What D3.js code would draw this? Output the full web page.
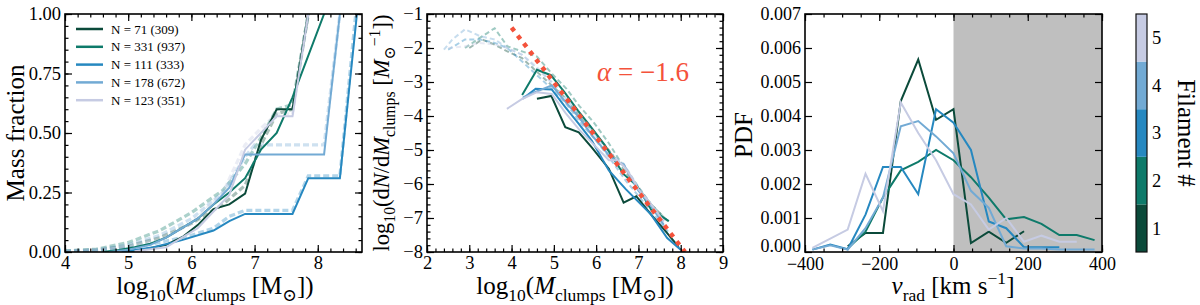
<!DOCTYPE html>
<html>
<head>
<meta charset="utf-8">
<script src="https://cdn.jsdelivr.net/npm/d3@7"></script>
<style>
body { margin: 0; background: #fff; }
svg { font-family: "Liberation Serif", "DejaVu Serif", serif; }
</style>
</head>
<body>
<svg id="chart" width="1200" height="305"></svg>
<script>
// filament colours (1 -> 5) and legend labels
var filaments = [1, 2, 3, 4, 5];
var colors = ["#0b4a3a", "#0e7a6a", "#2688c0", "#72aad4", "#c6cbe3"];
var legendLabels = ["N = 71 (309)", "N = 331 (937)", "N = 111 (333)", "N = 178 (672)", "N = 123 (351)"];

// left panel: cumulative mass fraction, [log10 M, fraction]
var fracSolid = [
  [[4.9,0.0],[5.2,0.008],[5.6,0.03],[5.87,0.065],[6.1,0.113],[6.35,0.18],[6.6,0.2],[6.85,0.245],[7.1,0.47],[7.35,0.6],[7.6,0.6],[7.85,1.0]],
  [[4.6,0.0],[4.85,0.008],[5.1,0.02],[5.35,0.035],[5.6,0.06],[5.85,0.1],[6.1,0.14],[6.35,0.2],[6.6,0.25],[6.85,0.31],[7.1,0.43],[7.35,0.5],[7.6,0.65],[8.1,1.0]],
  [[4.9,0.0],[5.4,0.02],[5.85,0.05],[6.35,0.09],[6.6,0.13],[6.85,0.16],[7.6,0.16],[7.85,0.31],[8.35,0.31],[8.62,1.0]],
  [[4.7,0.0],[5.0,0.01],[5.35,0.03],[5.6,0.06],[5.85,0.1],[6.1,0.14],[6.35,0.2],[6.6,0.27],[6.85,0.41],[8.1,0.41],[8.35,1.0]],
  [[5.1,0.003],[5.6,0.02],[5.85,0.06],[6.1,0.1],[6.35,0.17],[6.6,0.24],[6.85,0.43],[7.1,0.5],[7.35,0.57],[7.6,0.57],[7.85,1.0]]
];
var fracDashed = [
  [[4.0,0.003],[4.5,0.008],[5.0,0.025],[5.5,0.06],[6.0,0.12],[6.5,0.2],[6.85,0.28],[7.1,0.45],[7.35,0.58],[7.6,0.6],[7.85,1.0]],
  [[4.0,0.005],[4.5,0.012],[5.0,0.04],[5.5,0.09],[6.0,0.165],[6.5,0.26],[6.85,0.37],[7.1,0.48],[7.35,0.6],[7.6,0.62],[7.85,1.0]],
  [[4.0,0.002],[4.5,0.005],[5.0,0.015],[5.5,0.04],[6.0,0.07],[6.35,0.1],[6.6,0.15],[6.85,0.175],[7.6,0.175],[7.85,0.32],[8.35,0.32],[8.6,1.0]],
  [[4.0,0.004],[4.5,0.01],[5.0,0.03],[5.5,0.07],[6.0,0.14],[6.5,0.25],[6.85,0.4],[7.0,0.45],[8.1,0.45],[8.35,1.0]],
  [[4.0,0.003],[4.5,0.008],[5.0,0.02],[5.5,0.05],[6.0,0.12],[6.5,0.25],[6.85,0.45],[7.1,0.52],[7.35,0.58],[7.6,0.58],[7.85,1.0]]
];

// middle panel: mass function, [log10 M, log10 dN/dM]
var mfSolid = [
  [[4.6,-3.49],[4.94,-3.41],[5.27,-4.33],[5.59,-4.48],[5.9,-4.93],[6.3,-5.55],[6.65,-6.55],[6.95,-6.36],[7.3,-6.9],[7.65,-7.4],[7.95,-7.85]],
  [[4.25,-3.38],[4.6,-2.64],[4.93,-2.8],[5.25,-3.3],[5.57,-3.84],[5.88,-4.33],[6.2,-4.85],[6.42,-5.27],[6.65,-5.71],[6.97,-6.06],[7.3,-6.75],[7.72,-7.09]],
  [[4.27,-3.49],[4.57,-3.2],[4.95,-3.22],[5.27,-3.74],[5.59,-4.23],[5.9,-4.73],[6.3,-5.6],[6.7,-6.15],[7.3,-6.9],[7.68,-7.59],[8.0,-7.93]],
  [[4.27,-3.45],[4.55,-3.3],[4.95,-3.1],[5.25,-3.55],[5.6,-4.05],[5.92,-4.6],[6.3,-5.15],[6.5,-5.35],[6.65,-5.42],[6.82,-5.8],[7.0,-6.2],[7.3,-6.65],[7.6,-7.2]],
  [[3.89,-3.79],[4.25,-3.5],[4.6,-3.3],[4.95,-3.35],[5.27,-3.9],[5.6,-4.4],[5.95,-4.85],[6.3,-5.3],[6.5,-5.3],[6.65,-5.47],[6.82,-5.76],[7.0,-6.15],[7.3,-6.6],[7.6,-7.1]]
];
var mfDashed = [
  [[3.0,-2.0],[3.3,-1.75],[3.6,-1.9],[3.9,-2.1],[4.25,-2.3],[4.6,-2.7],[4.95,-3.1],[5.3,-3.5],[5.6,-4.0],[5.95,-4.5],[6.3,-5.0],[6.6,-5.5],[6.95,-6.05],[7.3,-6.6],[7.7,-7.1]],
  [[2.9,-2.0],[3.25,-1.7],[3.6,-1.42],[3.9,-1.95],[4.25,-2.1],[4.6,-2.25],[4.95,-2.75],[5.3,-3.2],[5.6,-3.7],[5.95,-4.2],[6.3,-4.8],[6.6,-5.4],[6.95,-6.0],[7.3,-6.6],[7.7,-7.1]],
  [[2.5,-2.05],[2.9,-1.75],[3.25,-1.75],[3.6,-1.85],[3.9,-2.0],[4.25,-2.4],[4.6,-2.8],[4.95,-3.2],[5.3,-3.65],[5.6,-4.15],[5.95,-4.65],[6.3,-5.2],[6.7,-5.9],[7.3,-6.8],[7.7,-7.4]],
  [[2.4,-2.05],[2.6,-1.75],[2.9,-1.45],[3.25,-1.65],[3.6,-1.75],[3.9,-2.0],[4.25,-2.2],[4.6,-2.6],[4.95,-3.0],[5.3,-3.5],[5.6,-4.0],[5.95,-4.5],[6.3,-5.05],[6.65,-5.4],[7.0,-6.1],[7.3,-6.6],[7.6,-7.1]],
  [[2.5,-2.0],[2.9,-1.95],[3.25,-1.85],[3.6,-1.9],[3.9,-2.0],[4.25,-2.2],[4.6,-2.55],[4.95,-3.05],[5.3,-3.6],[5.6,-4.1],[5.95,-4.6],[6.3,-5.15],[6.65,-5.45],[7.0,-6.1],[7.3,-6.6],[7.6,-7.1]]
];
var fitLine = [[4.0,-1.4],[8.1,-8.0]];
var fitLabel = "α = −1.6";

// right panel: PDF of radial velocity
var vrad = [-380,-332,-285,-237,-190,-142,-95,-47,0,47,95,142,190,237,285,332,380];
var pdf = [
  [null,null,0.00017,0.00056,0.00056,0.00444,0.00566,0.00389,0.0042,0.00026,0.0006,0.00027,0.00061,null,null,null,null],
  [null,null,0.0001,0.0006,0.0016,0.0024,0.00265,0.003,0.0027,0.0022,0.0016,0.00096,0.00103,0.00083,0.0005,0.0005,0.00035],
  [0.00007,0.00022,0.00008,0.0011,0.0025,0.0025,0.0017,0.0042,0.0038,0.003,0.0009,0.0007,0.00014,0.00014,0.00014,null,null],
  [0.00007,0.0002,0.00007,0.0007,0.0016,0.0037,0.00385,0.0034,0.0029,0.0018,0.0013,0.00017,0.0001,0.0001,0.00007,0.00007,0.00007],
  [0.00012,null,0.00066,0.0023,0.0012,0.0044,0.0035,0.0027,0.0017,0.0014,0.00066,0.001,0.0003,0.00048,0.0003,0.0003,null]
];
var shadeRange = [0, 400];

var svg = d3.select("#chart");
var top0 = 14, bot0 = 252;

// one panel box with inward ticks on all sides
function makePanel(o) {
  var x = d3.scaleLinear().domain(o.xDom).range([o.x0, o.x1]);
  var y = d3.scaleLinear().domain(o.yDom).range([bot0, top0]);
  var g = svg.append("g");
  var clipId = "clip" + o.id;
  svg.append("clipPath").attr("id", clipId).append("rect")
    .attr("x", o.x0).attr("y", top0).attr("width", o.x1 - o.x0).attr("height", bot0 - top0);
  var plot = g.append("g").attr("clip-path", "url(#" + clipId + ")");

  function ax(axisFn, scale, vals, size, fmt, tr) {
    var a = axisFn(scale).tickValues(vals).tickSize(size).tickPadding(4).tickFormat(fmt);
    var s = g.append("g").attr("transform", tr).call(a);
    s.select(".domain").remove();
    s.selectAll("line").attr("stroke", "#000").attr("stroke-width", 1.2);
    s.selectAll("text").attr("font-size", o.tickSize || 18.5).attr("fill", "#000")
      .attr("font-family", "Liberation Serif, DejaVu Serif, serif");
    return s;
  }
  var none = function() { return ""; };
  ax(d3.axisBottom, x, o.xMinor, -3.5, none, "translate(0," + bot0 + ")");
  ax(d3.axisTop, x, o.xMinor, -3.5, none, "translate(0," + top0 + ")");
  ax(d3.axisTop, x, o.xMajor, -7, none, "translate(0," + top0 + ")");
  ax(d3.axisBottom, x, o.xMajor, -7, o.xFmt, "translate(0," + bot0 + ")")
    .selectAll("text").attr("dy", o.xDy || "0.72em");
  if (o.yMinor) {
    ax(d3.axisLeft, y, o.yMinor, -3.5, none, "translate(" + o.x0 + ",0)");
    ax(d3.axisRight, y, o.yMinor, -3.5, none, "translate(" + o.x1 + ",0)");
  }
  ax(d3.axisRight, y, o.yMajor, -7, none, "translate(" + o.x1 + ",0)");
  ax(d3.axisLeft, y, o.yMajor, -7, o.yFmt, "translate(" + o.x0 + ",0)")
    .selectAll("text").attr("dy", "0.3em");

  g.append("rect").attr("x", o.x0).attr("y", top0)
    .attr("width", o.x1 - o.x0).attr("height", bot0 - top0)
    .attr("fill", "none").attr("stroke", "#000").attr("stroke-width", 1.6);
  return { x: x, y: y, plot: plot, g: g };
}

// text with italic / sub / sup pieces
function richText(sel, parts, size) {
  var cur = 0;
  parts.forEach(function(p) {
    var shift = p.sub ? 0.28 * size : (p.sup ? -0.42 * size : 0);
    var ts = sel.append("tspan").text(p.t)
      .attr("font-size", (p.sub || p.sup) ? size * 0.7 : size)
      .attr("dy", shift - cur);
    if (p.it) ts.attr("font-style", "italic");
    cur = shift;
  });
}

function xMassLabel(cx) {
  var t = svg.append("text").attr("x", cx).attr("y", 294).attr("text-anchor", "middle");
  richText(t, [{t: "log"}, {t: "10", sub: 1}, {t: "("}, {t: "M", it: 1}, {t: "clumps", sub: 1},
    {t: " [M"}, {t: "⊙", sub: 1}, {t: "])"}], 25);
}

// ---------- left: mass fraction ----------
var L = makePanel({
  id: "L", x0: 65, x1: 362, xDom: [4, 8.7], yDom: [0, 1],
  xMajor: [4, 5, 6, 7, 8], xMinor: d3.range(4, 8.7, 0.2),
  yMajor: [0, 0.25, 0.5, 0.75, 1], yMinor: d3.range(0, 1.001, 0.05),
  xFmt: d3.format("d"), yFmt: d3.format(".2f")
});
var lineL = d3.line().x(function(d) { return L.x(d[0]); }).y(function(d) { return L.y(d[1]); });
fracDashed.forEach(function(s, i) {
  L.plot.append("path").attr("d", lineL(s)).attr("fill", "none")
    .attr("stroke", colors[i]).attr("stroke-opacity", 0.35)
    .attr("stroke-width", 3.2).attr("stroke-dasharray", "6,3");
});
fracSolid.forEach(function(s, i) {
  L.plot.append("path").attr("d", lineL(s)).attr("fill", "none")
    .attr("stroke", colors[i]).attr("stroke-width", 2);
});
xMassLabel(215);
svg.append("text").attr("transform", "translate(24,133) rotate(-90)")
  .attr("text-anchor", "middle").attr("font-size", 25).text("Mass fraction");

// legend
var leg = svg.append("g");
legendLabels.forEach(function(lab, i) {
  var yy = 29 + i * 17.8;
  leg.append("line").attr("x1", 76).attr("x2", 103).attr("y1", yy).attr("y2", yy)
    .attr("stroke", colors[i]).attr("stroke-width", 2.5);
  leg.append("text").attr("x", 111).attr("y", yy + 4.5).attr("font-size", 13).text(lab);
});

// ---------- middle: mass function ----------
var M = makePanel({
  id: "M", x0: 427, x1: 723, xDom: [2, 9], yDom: [-8, -1],
  xMajor: d3.range(2, 10), xMinor: d3.range(2, 9.01, 0.2),
  yMajor: d3.range(-8, 0), yMinor: d3.range(-8, -0.99, 0.2),
  xFmt: d3.format("d"), yFmt: d3.format("d")
});
var lineM = d3.line().x(function(d) { return M.x(d[0]); }).y(function(d) { return M.y(d[1]); });
mfDashed.forEach(function(s, i) {
  M.plot.append("path").attr("d", lineM(s)).attr("fill", "none")
    .attr("stroke", colors[i]).attr("stroke-opacity", 0.4)
    .attr("stroke-width", 2).attr("stroke-dasharray", "5,3");
});
mfSolid.forEach(function(s, i) {
  M.plot.append("path").attr("d", lineM(s)).attr("fill", "none")
    .attr("stroke", colors[i]).attr("stroke-width", 2);
});
M.plot.append("path").attr("d", lineM(fitLine)).attr("fill", "none")
  .attr("stroke", "#f4523b").attr("stroke-width", 4.5).attr("stroke-dasharray", "4.5,5.5");
svg.append("text").attr("x", 597).attr("y", 81).attr("font-size", 27).attr("fill", "#f4523b")
  .call(function(t) {
    t.append("tspan").attr("font-style", "italic").text(fitLabel.slice(0, 1));
    t.append("tspan").text(fitLabel.slice(1));
  });
xMassLabel(575);
var ylM = svg.append("text").attr("transform", "translate(389,133) rotate(-90)")
  .attr("text-anchor", "middle");
richText(ylM, [{t: "log"}, {t: "10", sub: 1}, {t: "(d"}, {t: "N", it: 1}, {t: "/d"}, {t: "M", it: 1},
  {t: "clumps", sub: 1}, {t: " ["}, {t: "M", it: 1}, {t: "⊙", sub: 1}, {t: "−1", sup: 1}, {t: "])"}], 22.5);

// ---------- right: radial velocity PDF ----------
var R = makePanel({
  id: "R", x0: 805, x1: 1102, xDom: [-400, 400], yDom: [0, 0.007],
  xMajor: [-400, -200, 0, 200, 400], xMinor: d3.range(-400, 401, 50),
  yMajor: d3.range(0, 0.00701, 0.001), yMinor: null, tickSize: 18, xDy: "0.8em",
  xFmt: d3.format("d"), yFmt: d3.format(".3f")
});
R.plot.insert("rect", ":first-child")
  .attr("x", R.x(shadeRange[0])).attr("y", top0)
  .attr("width", R.x(shadeRange[1]) - R.x(shadeRange[0])).attr("height", bot0 - top0)
  .attr("fill", "#bfbfbf");
var lineR = d3.line().x(function(d) { return R.x(d[0]); }).y(function(d) { return R.y(d[1]); });
pdf.forEach(function(s, i) {
  var pts = vrad.map(function(v, k) { return [v, s[k]]; }).filter(function(d) { return d[1] !== null; });
  R.plot.append("path").attr("d", lineR(pts)).attr("fill", "none")
    .attr("stroke", colors[i]).attr("stroke-width", 2);
});
// nudge the bottom-left tick label up so it does not touch the -400 label
R.g.selectAll("text").filter(function() { return this.textContent === "0.000"; }).attr("dy", "-0.05em");
var xlR = svg.append("text").attr("x", 953).attr("y", 294).attr("text-anchor", "middle");
richText(xlR, [{t: "v", it: 1}, {t: "rad", sub: 1}, {t: " [km s"}, {t: "−1", sup: 1}, {t: "]"}], 25);
svg.append("text").attr("transform", "translate(752,135) rotate(-90)")
  .attr("text-anchor", "middle").attr("font-size", 25).text("PDF");

// ---------- colorbar ----------
var cb = d3.scaleBand().domain(filaments.slice().reverse()).range([top0, bot0]);
var cbg = svg.append("g");
cbg.selectAll("rect.seg").data(filaments).enter().append("rect")
  .attr("x", 1136).attr("width", 11)
  .attr("y", function(d) { return cb(d); }).attr("height", cb.bandwidth())
  .attr("fill", function(d, i) { return colors[i]; });
cbg.append("rect").attr("x", 1136).attr("y", top0).attr("width", 11).attr("height", bot0 - top0)
  .attr("fill", "none").attr("stroke", "#111").attr("stroke-width", 1.2);
cbg.selectAll("text.lab").data(filaments).enter().append("text")
  .attr("x", 1152).attr("y", function(d) { return cb(d) + cb.bandwidth() / 2; })
  .attr("dy", "0.35em").attr("font-size", 18.5).text(function(d) { return d; });
svg.append("text").attr("transform", "translate(1178,133) rotate(90)")
  .attr("text-anchor", "middle").attr("font-size", 25).text("Filament #");
</script>
</body>
</html>
